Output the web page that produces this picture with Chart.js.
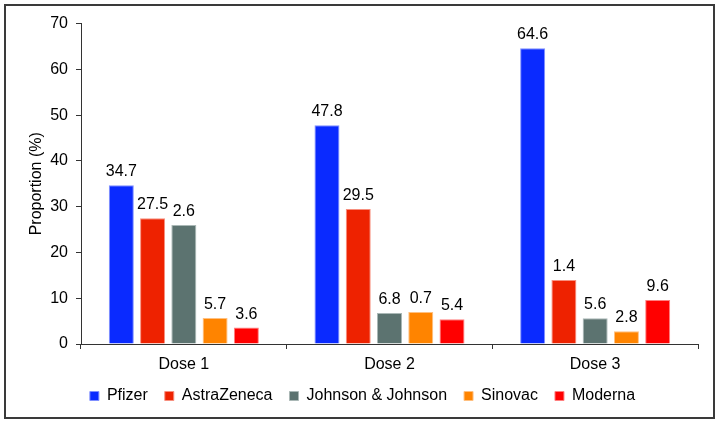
<!DOCTYPE html>
<html>
<head>
<meta charset="utf-8">
<script src="https://cdn.jsdelivr.net/npm/chart.js@4"></script>
<style>
  html, body { margin: 0; padding: 0; background: #fff; }
  #frame { position: absolute; left: 4px; top: 4px; width: 707px; height: 411px; border: 2px solid #3a3a3a; background: #fff; }
  #frame canvas { display: block; }
</style>
</head>
<body>
<div id="frame"><canvas id="c" width="707" height="411"></canvas></div>
<script>
const categories = ["Dose 1", "Dose 2", "Dose 3"];
const seriesNames = ["Pfizer", "AstraZeneca", "Johnson & Johnson", "Sinovac", "Moderna"];
const pfizer = [34.7, 47.8, 64.6];
const astraZeneca = [27.5, 29.5, 14.0];
const johnson = [26.0, 6.8, 5.6];
const sinovac = [5.7, 7.0, 2.8];
const moderna = [3.6, 5.4, 9.6];
// value labels as printed on the chart
const pfizerLabels = ["34.7", "47.8", "64.6"];
const astraZenecaLabels = ["27.5", "29.5", "1.4"];
const johnsonLabels = ["2.6", "6.8", "5.6"];
const sinovacLabels = ["5.7", "0.7", "2.8"];
const modernaLabels = ["3.6", "5.4", "9.6"];
const yTicks = [0, 10, 20, 30, 40, 50, 60, 70];

const colors = ["#0A2AFF", "#EE2200", "#5C7370", "#FF8400", "#FF0000"];
const edge = ["#7f8fff", "#f7907f", "#aab8b6", "#ffc080", "#ff8080"];
const values = [pfizer, astraZeneca, johnson, sinovac, moderna];
const labels = [pfizerLabels, astraZenecaLabels, johnsonLabels, sinovacLabels, modernaLabels];

const FONT = "'Liberation Sans', Arial, sans-serif";
const FS = 16;

const valueLabelPlugin = {
  id: 'valueLabels',
  afterDatasetsDraw(chart) {
    const ctx = chart.ctx;
    ctx.save();
    ctx.font = FS + "px " + FONT;
    ctx.fillStyle = "#000";
    ctx.textAlign = "center";
    ctx.textBaseline = "alphabetic";
    chart.data.datasets.forEach((ds, i) => {
      const meta = chart.getDatasetMeta(i);
      meta.data.forEach((bar, j) => {
        ctx.fillText(ds.valueLabels[j], bar.x, bar.y - 9);
      });
    });
    ctx.restore();
  }
};

new Chart(document.getElementById('c'), {
  type: 'bar',
  data: {
    labels: categories,
    datasets: seriesNames.map((name, i) => ({
      label: name,
      data: values[i],
      valueLabels: labels[i],
      backgroundColor: colors[i],
      borderColor: edge[i],
      borderWidth: 1,
      categoryPercentage: 0.76,
      barPercentage: 0.8
    }))
  },
  options: {
    responsive: false,
    animation: false,
    devicePixelRatio: 1,
    layout: { padding: { left: 6, right: 0, top: 16, bottom: 3 } },
    plugins: {
      tooltip: { enabled: false },
      legend: {
        position: 'bottom',
        maxHeight: 47,
        labels: {
          font: { family: FONT, size: FS },
          color: '#000',
          boxWidth: 9,
          boxHeight: 9,
          padding: 17
        }
      }
    },
    scales: {
      x: {
        afterFit(scale) { scale.height = 27; },
        grid: { display: true, drawOnChartArea: false, drawTicks: true, tickLength: 5, color: '#333', offset: true },
        border: { display: true, color: '#333', width: 1 },
        ticks: { font: { family: FONT, size: FS }, color: '#000', padding: 6 }
      },
      y: {
        min: 0, max: 70,
        afterBuildTicks(scale) { scale.ticks = yTicks.map(v => ({ value: v })); },
        afterFit(scale) { scale.width = 69; },
        grid: { display: true, drawOnChartArea: false, drawTicks: true, tickLength: 5, color: '#333' },
        border: { display: true, color: '#333', width: 1 },
        ticks: { font: { family: FONT, size: FS }, color: '#000', padding: 8 },
        title: { display: true, text: 'Proportion (%)', font: { family: FONT, size: FS }, color: '#000', padding: { top: 15, bottom: 0 } }
      },
      yR: {
        position: 'right',
        min: 0, max: 1,
        afterFit(scale) { scale.width = 15; },
        grid: { display: false },
        border: { display: false },
        ticks: { display: false }
      }
    }
  },
  plugins: [valueLabelPlugin]
});
</script>
</body>
</html>
